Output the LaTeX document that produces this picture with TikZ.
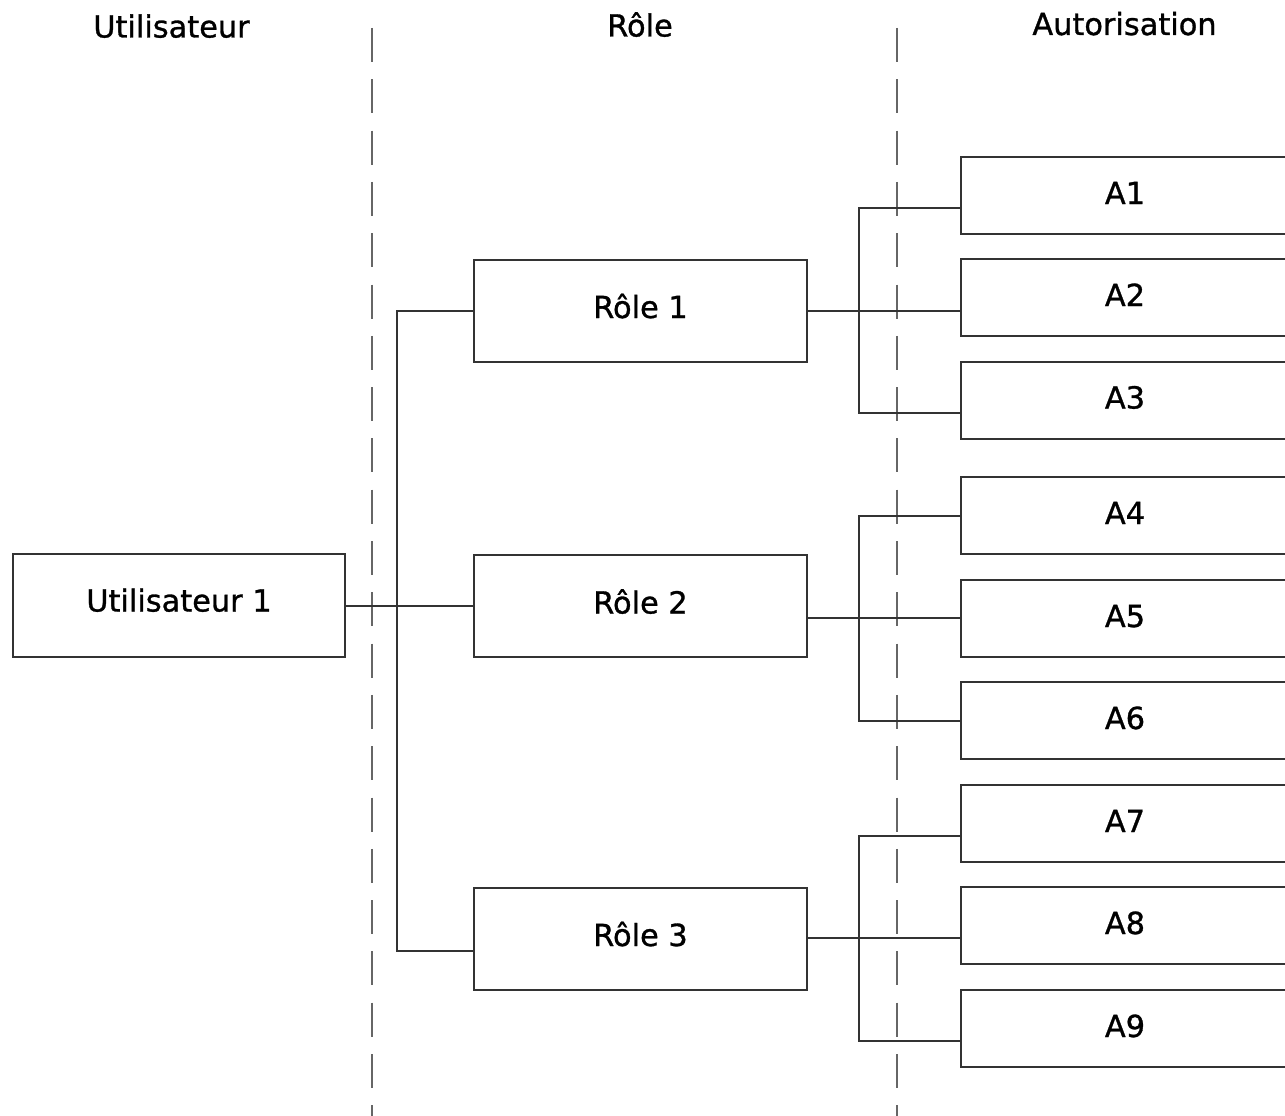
\documentclass[tikz,border=0pt]{standalone}
\usepackage{fontspec}
\setmainfont[FakeBold=1]{DejaVu Sans}
\definecolor{linec}{HTML}{333333}
\definecolor{sepc}{HTML}{666666}
\begin{document}
\begin{tikzpicture}[x=1pt,y=-1pt,
  txt/.style={font=\fontsize{30.4}{36}\selectfont, text=black},
  box/.style={txt, draw=linec, line width=2pt, fill=white, inner sep=0pt,
              text height=22pt, text depth=7pt},
  ubox/.style={box, minimum width=332pt, minimum height=103pt, text depth=10pt},
  rbox/.style={box, minimum width=333pt, minimum height=102pt},
  abox/.style={box, minimum width=328pt, minimum height=77pt, text depth=5pt},
  conn/.style={draw=linec, line width=2pt},
  sep/.style={draw=sepc, line width=2.2pt, dash pattern=on 34pt off 17.3pt},
  head/.style={txt, inner sep=0pt, text height=22pt, text depth=0pt}]
\useasboundingbox (0,0) rectangle (1285,1116);
\clip (0,0) rectangle (1285,1116);
\fill[white] (0,0) rectangle (1285,1116);

% headers
\node[head] (hU) at (171.5,26.5) {Utilisateur};
\node[head] (hR) at (640,25.5) {Rôle};
\node[head] (hA) at (1124.5,24) {Autorisation};

% separators
\coordinate (s1t) at (372,28);
\coordinate (s1b) at (372,1130);
\coordinate (s2t) at (897,28);
\coordinate (s2b) at (897,1130);
\draw[sep] (s1t) -- (s1b);
\draw[sep] (s2t) -- (s2b);

% boxes
\node[ubox] (U) at (179,605.5) {Utilisateur 1};
\node[rbox] (R1) at (640.5,310.5) {Rôle 1};
\node[rbox] (R2) at (640.5,606) {Rôle 2};
\node[rbox] (R3) at (640.5,938.5) {Rôle 3};
\node[abox] (A1) at (1125,195.5) {A1};
\node[abox] (A2) at (1125,297.5) {A2};
\node[abox] (A3) at (1125,400) {A3};
\node[abox] (A4) at (1125,515.5) {A4};
\node[abox] (A5) at (1125,618.5) {A5};
\node[abox] (A6) at (1125,720.5) {A6};
\node[abox] (A7) at (1125,823.5) {A7};
\node[abox] (A8) at (1125,925.5) {A8};
\node[abox] (A9) at (1125,1028.5) {A9};

% user to roles
\draw[conn] (U.east |- 0,606) -- (R2.west |- 0,606);
\draw[conn] (R1.west |- 0,311) -- (397,311) -- (397,951) -- (R3.west |- 0,951);

% role 1 to A1-A3
\draw[conn] (R1.east |- 0,311) -- (A2.west |- 0,311);
\draw[conn] (A1.west |- 0,208) -- (859,208) -- (859,413) -- (A3.west |- 0,413);

% role 2 to A4-A6
\draw[conn] (R2.east |- 0,618) -- (A5.west |- 0,618);
\draw[conn] (A4.west |- 0,516) -- (859,516) -- (859,721) -- (A6.west |- 0,721);

% role 3 to A7-A9
\draw[conn] (R3.east |- 0,938) -- (A8.west |- 0,938);
\draw[conn] (A7.west |- 0,836) -- (859,836) -- (859,1041) -- (A9.west |- 0,1041);
\end{tikzpicture}
\end{document}
